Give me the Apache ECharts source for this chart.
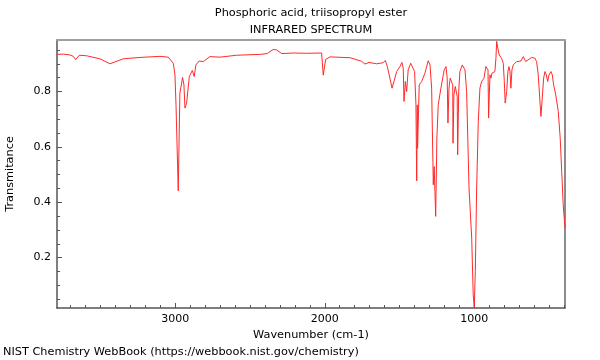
<!DOCTYPE html>
<html><head><meta charset="utf-8">
<script src="https://cdn.jsdelivr.net/npm/echarts@6/dist/echarts.min.js"></script>
<style>html,body{margin:0;padding:0;background:#fff}#c{width:600px;height:360px}</style>
</head><body><div id="c"></div>
<script>
const wavenumbers = [3791,3749,3704,3682,3666,3642,3593,3504,3437,3348,3236,3102,3094,3047,3036,3013,3002,2995,2980,2969,2951,2942,2935,2924,2906,2886,2873,2862,2840,2813,2768,2701,2589,2434,2385,2345,2322,2288,2211,2121,2021,2010,1994,1965,1831,1753,1731,1704,1653,1609,1595,1582,1569,1550,1537,1519,1497,1484,1475,1470,1461,1452,1442,1425,1412,1399,1390,1385,1381,1379,1368,1352,1330,1308,1296,1285,1274,1268,1258,1250,1241,1223,1201,1189,1181,1176,1169,1161,1151,1144,1142,1136,1127,1120,1114,1111,1104,1096,1080,1062,1051,1035,1017,1007,1000,993,984,973,962,951,935,922,913,908,904,895,888,882,862,855,850,842,833,817,806,799,793,783,775,768,761,755,748,739,728,717,704,688,672,663,656,643,616,594,583,572,562,554,545,536,527,518,509,500,487,478,469,455,438,425,415,405,393];
const transmittance = [0.934,0.935,0.932,0.927,0.915,0.931,0.929,0.918,0.900,0.918,0.923,0.927,0.931,0.924,0.923,0.902,0.860,0.752,0.441,0.794,0.851,0.824,0.740,0.758,0.854,0.876,0.854,0.896,0.910,0.908,0.926,0.924,0.931,0.934,0.937,0.952,0.950,0.937,0.939,0.938,0.939,0.859,0.916,0.925,0.922,0.909,0.899,0.905,0.900,0.904,0.912,0.891,0.860,0.812,0.836,0.872,0.890,0.905,0.884,0.764,0.836,0.800,0.878,0.902,0.902,0.872,0.752,0.477,0.752,0.595,0.824,0.836,0.866,0.911,0.896,0.812,0.463,0.529,0.349,0.632,0.752,0.812,0.878,0.890,0.848,0.686,0.812,0.848,0.851,0.824,0.613,0.788,0.818,0.812,0.782,0.571,0.800,0.872,0.896,0.878,0.800,0.451,0.270,0.066,0.020,0.150,0.451,0.692,0.812,0.836,0.848,0.890,0.896,0.878,0.704,0.860,0.848,0.866,0.872,0.920,0.981,0.956,0.932,0.920,0.902,0.836,0.758,0.800,0.872,0.890,0.872,0.812,0.878,0.896,0.899,0.908,0.915,0.910,0.926,0.932,0.908,0.914,0.923,0.920,0.908,0.860,0.776,0.710,0.776,0.848,0.872,0.860,0.836,0.860,0.872,0.860,0.824,0.788,0.728,0.631,0.511,0.391,0.307];
const xMajorTicks = [1000, 2000, 3000];
const yMajorTicks = [0.2, 0.4, 0.6, 0.8];
const titleText = 'Phosphoric acid, triisopropyl ester';
const subtitleText = 'INFRARED SPECTRUM';
const xName = 'Wavenumber (cm-1)';
const yName = 'Transmitance';
const footer = 'NIST Chemistry WebBook (https://webbook.nist.gov/chemistry)';

const X_MIN = 393, X_MAX = 3791, Y_MIN = 0.018, Y_MAX = 0.986;
const xMinor = []; for (let v = 400; v <= 3700; v += 100) xMinor.push(v);
const yMinor = []; for (let i = 1; i <= 19; i++) yMinor.push(+(i * 0.05).toFixed(2));
const FONT = 'DejaVu Sans';
const FS = 11.3;
const pts = wavenumbers.map((w, i) => [w, transmittance[i]]);

const base = { type: 'value', min: X_MIN, max: X_MAX, inverse: true, splitLine: { show: false } };
const ybase = { type: 'value', min: Y_MIN, max: Y_MAX, splitLine: { show: false } };
const txt = (t, x, y, align) => ({ type: 'text', x: x, y: y, style: { text: t, fill: '#000', font: FS + 'px "' + FONT + '"', textAlign: align, textVerticalAlign: 'middle' } });
const chart = echarts.init(document.getElementById('c'), null, { renderer: 'canvas' });
chart.setOption({
  animation: false,
  backgroundColor: '#fff',
  textStyle: { fontFamily: FONT },
  graphic: [
    txt(titleText, 311, 13, 'center'),
    txt(subtitleText, 311, 30, 'center'),
    txt(footer, 3, 352, 'left')
  ],
  grid: { left: 57, right: 35, top: 40, bottom: 52, containLabel: false, outerBoundsMode: 'none' },
  xAxis: [
    Object.assign({}, base, { position: 'bottom', name: xName, nameLocation: 'middle', nameGap: 20,
      nameTextStyle: { fontFamily: FONT, fontSize: FS, color: '#000' },
      axisLine: { show: true, lineStyle: { color: '#555', width: 1.5 } },
      axisTick: { show: true, inside: true, length: 5, customValues: xMajorTicks, lineStyle: { color: '#555' } },
      axisLabel: { show: true, customValues: xMajorTicks, margin: 6, fontFamily: FONT, fontSize: 11, color: '#000',
        formatter: v => String(v) } }),
    Object.assign({}, base, { position: 'bottom', gridIndex: 0,
      axisLine: { show: false },
      axisTick: { show: true, inside: true, length: 3, customValues: xMinor, lineStyle: { color: '#555' } },
      axisLabel: { show: false } }),
    Object.assign({}, base, { position: 'top',
      axisLine: { show: true, lineStyle: { color: '#a0a0a0', width: 2 } },
      axisTick: { show: false }, axisLabel: { show: false } })
  ],
  yAxis: [
    Object.assign({}, ybase, { position: 'left', name: yName, nameLocation: 'middle', nameGap: 41, nameRotate: 90,
      nameTextStyle: { fontFamily: FONT, fontSize: FS, color: '#000' },
      axisLine: { show: true, lineStyle: { color: '#555', width: 1.5 } },
      axisTick: { show: true, inside: true, length: 5, customValues: yMajorTicks, lineStyle: { color: '#555' } },
      axisLabel: { show: true, customValues: yMajorTicks, margin: 6, fontFamily: FONT, fontSize: 11, color: '#000',
        formatter: v => v.toFixed(1) } }),
    Object.assign({}, ybase, { position: 'left',
      axisLine: { show: false },
      axisTick: { show: true, inside: true, length: 3, customValues: yMinor, lineStyle: { color: '#555' } },
      axisLabel: { show: false } }),
    Object.assign({}, ybase, { position: 'right',
      axisLine: { show: true, lineStyle: { color: '#666', width: 1.5 } },
      axisTick: { show: false }, axisLabel: { show: false } })
  ],
  series: [{
    type: 'line', data: pts, xAxisIndex: 0, yAxisIndex: 0,
    showSymbol: false, symbol: 'none', smooth: false,
    lineStyle: { color: '#ff2a2a', width: 1 }
  }]
});
</script></body></html>
